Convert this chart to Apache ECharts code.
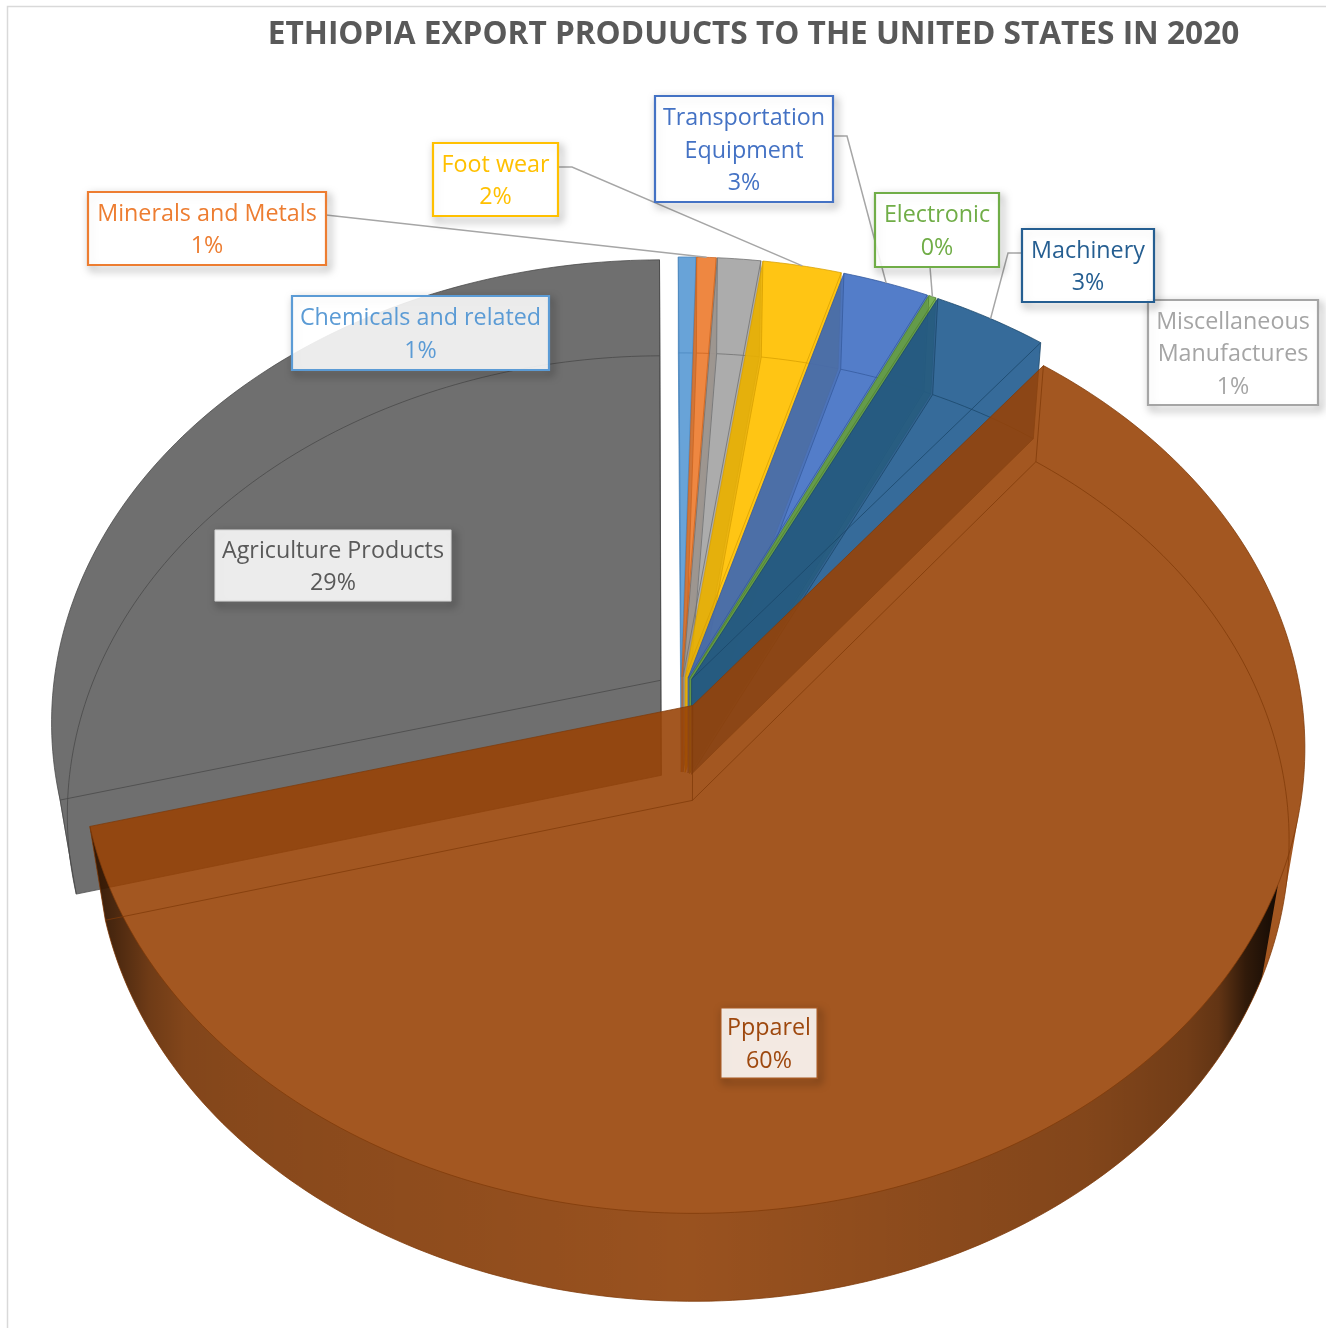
<!DOCTYPE html>
<html>
<head>
<meta charset="utf-8">
<style>html,body{margin:0;padding:0;background:#fff}#chart{width:1326px;height:1328px}</style>
<script src="https://cdn.jsdelivr.net/npm/echarts@6/dist/echarts.min.js"></script>
</head>
<body>
<div id="chart"></div>
<script>
// Export shares in percent, clockwise from twelve o'clock.
const categories = ['Chemicals and related', 'Minerals and Metals', 'Miscellaneous\nManufactures', 'Foot wear',
  'Transportation\nEquipment', 'Electronic', 'Machinery', 'Ppparel', 'Agriculture Products'];
const shares = [0.51, 0.56, 1.25, 2.28, 2.51, 0.22, 3.34, 60.3, 29.03];
const chartTitle = 'ETHIOPIA EXPORT PRODUUCTS TO THE UNITED STATES IN 2020';

// Slice appearance, same order as the categories.
const sliceColors = ['#5B9BD5', '#ED7D31', '#A5A5A5', '#FFC000', '#4472C4', '#70AD47', '#255E91', '#974105', '#636363'];
const sliceAlpha = [.92, .92, .92, .92, .92, .92, .92, .888, .92];
const edgeColors = ['#4a86bd', '#c9631f', '#6e6e6e', '#d79f00', '#34599c', '#4f8030', '#1a4668', '#7f3a08', '#474747'];
const slicePull = [.033, .033, .033, .033, .033, .033, .033, .035, .042];
const drawRank = [1, 2, 3, 4, 5, 6, 7, 20, 0];

// Callout boxes [left, top, right, bottom] and leader bends, same order as the categories.
const boxes = [[292, 296, 549, 370], [88, 192, 326, 265], [1148, 300, 1318, 405], [433, 143, 558, 216],
  [655, 96, 833, 202], [875, 193, 999, 267], [1022, 229, 1154, 302], [721, 1008, 817, 1078], [215, 530, 451, 601]];
const leaderStarts = [null, [[326, 215]], null, [[558, 167], [572, 167]], [[833, 136], [847, 136]],
  [[930, 267]], [[1022, 253], [1008, 253]], null, null];
const boxFrames = ['#5B9BD5', '#ED7D31', '#A5A5A5', '#FFC000', '#4472C4', '#70AD47', '#255E91', '#a35621', '#d4d4d4'];
const shadowFrames = ['#5B9BD5', '#ED7D31', '#A5A5A5', '#FFC000', '#4472C4', '#70AD47', '#255E91', '#a35621', '#707070'];

// Perspective discs for the upper and lower faces of the pie.
const upper = { cx: 681, cy: 692, R: 608, S: 460, p: .0893 };
const lower = { cx: 681, cy: 787, R: 593, S: 456.6, p: .0838 };
const START_DEG = -0.3;
const RIM_FROM_DEG = 112;

const total = shares.reduce((a, b) => a + b, 0);
const spans = [];
shares.reduce((from, v) => {
  const to = from + v / total * 360;
  spans.push([from, to]);
  return to;
}, START_DEG);

const rad = d => d * Math.PI / 180;

function project(disc, deg, i, radius) {
  const mid = rad((spans[i][0] + spans[i][1]) / 2);
  const u = radius * Math.sin(rad(deg)) + slicePull[i] * Math.sin(mid);
  const v = -radius * Math.cos(rad(deg)) - slicePull[i] * Math.cos(mid);
  const w = 1 - disc.p * v;
  return [disc.cx + disc.R * u / w, disc.cy + disc.S * v / w];
}

function arc(disc, i, from, to) {
  const pts = [];
  const n = Math.max(2, Math.ceil(Math.abs(to - from)));
  for (let k = 0; k <= n; k++) pts.push(project(disc, from + (to - from) * k / n, i, 1));
  return pts;
}

// One sub-path with fixed winding, so a compound fill never leaves holes.
function subPath(pts) {
  let area = 0;
  pts.forEach((p, k) => {
    const q = pts[(k + 1) % pts.length];
    area += p[0] * q[1] - q[0] * p[1];
  });
  const list = area < 0 ? pts.slice().reverse() : pts;
  return 'M' + list.map(p => p[0].toFixed(2) + ' ' + p[1].toFixed(2)).join('L') + 'Z';
}

function strip(a, b) {
  let d = '';
  for (let k = 0; k < a.length - 1; k++) d += subPath([a[k], a[k + 1], b[k + 1], b[k]]);
  return d;
}

const rimShade = new echarts.graphic.LinearGradient(0, 0, 1, 0, [
  { offset: 0, color: 'rgba(0,0,0,.68)' }, { offset: .02, color: 'rgba(0,0,0,.55)' },
  { offset: .05, color: 'rgba(0,0,0,.32)' }, { offset: .08, color: 'rgba(0,0,0,.2)' },
  { offset: .135, color: 'rgba(0,0,0,.17)' }, { offset: .5, color: 'rgba(0,0,0,.06)' },
  { offset: .755, color: 'rgba(0,0,0,.17)' }, { offset: .84, color: 'rgba(0,0,0,.2)' },
  { offset: .923, color: 'rgba(0,0,0,.3)' }, { offset: .95, color: 'rgba(0,0,0,.4)' },
  { offset: .973, color: 'rgba(0,0,0,.7)' }, { offset: 1, color: 'rgba(0,0,0,.88)' }
]);

function renderSlice(params) {
  const i = params.dataIndex;
  const [from, to] = spans[i];
  const z2 = drawRank[i];
  const aT = project(upper, 0, i, 0), aB = project(lower, 0, i, 0);
  const tArc = arc(upper, i, from, to), bArc = arc(lower, i, from, to);
  const tailT = tArc[tArc.length - 1], tailB = bArc[bArc.length - 1];
  const startWall = [aT, tArc[0], bArc[0], aB];
  const endWall = [aT, tailT, tailB, aB];
  const body = subPath([aT].concat(tArc)) + subPath([aB].concat(bArc)) +
    subPath(startWall) + subPath(endWall) + strip(tArc, bArc);

  const children = [{
    type: 'path', z2, shape: { pathData: body },
    style: { fill: sliceColors[i], opacity: sliceAlpha[i] }
  }];

  // Near rim of the large slice, shaded towards both ends.
  if (to - from > 180) {
    const rimT = arc(upper, i, RIM_FROM_DEG, to), rimB = arc(lower, i, RIM_FROM_DEG, to);
    children.push({ type: 'path', z2, shape: { pathData: strip(rimT, rimB) }, style: { fill: rimShade } });
  }
  // Side wall of the narrow slices reads a little darker through the glass.
  if (to - from < 30) {
    children.push({ type: 'polygon', z2, shape: { points: startWall }, style: { fill: 'rgba(0,0,0,.08)' } });
  }
  const line = { fill: null, stroke: edgeColors[i], lineWidth: 1, opacity: .75 };
  [[aT].concat(tArc, [aT]), [aB].concat(bArc, [aB]), [tArc[0], bArc[0]], [tailT, tailB], [aT, aB]].forEach(points => {
    children.push({ type: 'polyline', z2, shape: { points }, style: line });
  });
  return { type: 'group', children };
}

function renderCallout(params) {
  const i = params.dataIndex;
  const [x0, y0, x1, y1] = boxes[i];
  const plain = i >= 7;
  const share = Math.round(shares[i] / total * 100);
  const frame = { x: x0, y: y0, width: x1 - x0, height: y1 - y0 };
  const children = [];
  if (leaderStarts[i]) {
    const mid = (spans[i][0] + spans[i][1]) / 2;
    children.push({
      type: 'polyline', z2: 30,
      shape: { points: leaderStarts[i].concat([project(upper, mid, i, 1)]) },
      style: { fill: null, stroke: '#a6a6a6', lineWidth: 1.5 }
    });
  }
  // The drop shadow hangs off a stroke so it stays out of the translucent panel.
  children.push({
    type: 'rect', z2: 40 + i * 3, shape: frame,
    style: {
      fill: null, stroke: shadowFrames[i], lineWidth: 2,
      shadowBlur: 8, shadowOffsetX: 3, shadowOffsetY: 4, shadowColor: 'rgba(0,0,0,.6)'
    }
  });
  children.push({
    type: 'rect', z2: 41 + i * 3, shape: frame,
    style: { fill: 'rgba(255,255,255,.87)' }
  });
  children.push({
    type: 'rect', z2: 42 + i * 3, shape: frame,
    style: { fill: null, stroke: boxFrames[i], lineWidth: plain ? 1 : 2.2 }
  });
  children.push({
    type: 'text', z2: 80 + i,
    style: {
      text: categories[i] + '\n' + share + '%',
      x: (x0 + x1) / 2, y: (y0 + y1) / 2 + 2,
      align: 'center', verticalAlign: 'middle',
      fill: i === 7 ? '#9E480E' : (i === 8 ? '#595959' : sliceColors[i]),
      fontFamily: '"Open Sans"', fontSize: 23.3, lineHeight: 32.6
    }
  });
  return { type: 'group', children };
}

const rows = categories.map((name, k) => [name, shares[k]]);
const chart = echarts.init(document.getElementById('chart'));
chart.setOption({
  animation: false,
  backgroundColor: '#fff',
  title: {
    text: chartTitle, left: 748.5, top: 14, textAlign: 'center',
    textStyle: { fontFamily: '"Open Sans"', fontWeight: 'bold', fontSize: 31.6, color: '#595959' }
  },
  graphic: [{
    type: 'rect', shape: { x: 7.5, y: 6.5, width: 1340, height: 1340 },
    style: { fill: null, stroke: '#d9d9d9', lineWidth: 1.5 }
  }],
  series: [
    { type: 'custom', coordinateSystem: 'none', silent: true, data: rows, renderItem: renderSlice, z: 2 },
    { type: 'custom', coordinateSystem: 'none', silent: true, data: rows, renderItem: renderCallout, z: 3 }
  ]
});
</script>
</body>
</html>
